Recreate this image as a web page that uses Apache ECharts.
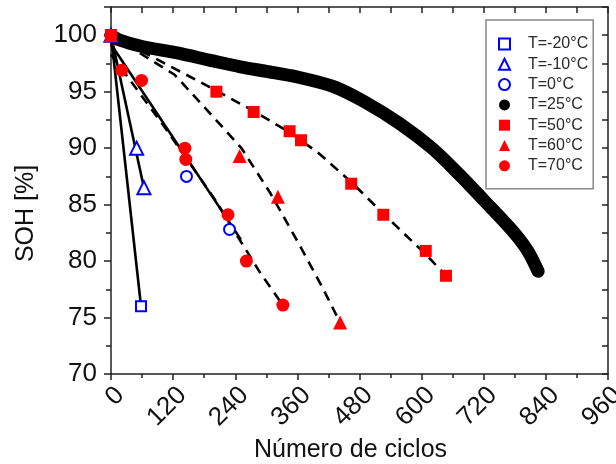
<!DOCTYPE html>
<html>
<head>
<meta charset="utf-8">
<script src="https://cdn.jsdelivr.net/npm/echarts@6/dist/echarts.min.js"></script>
<style>
html,body{margin:0;padding:0;background:#fff;}
#chart{width:616px;height:464px;}
</style>
</head>
<body>
<div id="chart"></div>
<script>
// ---- Data ----
const seriesNames = ['T=-20°C','T=-10°C','T=0°C','T=25°C','T=50°C','T=60°C','T=70°C'];
const xTickValues = [0,120,240,360,480,600,720,840,960];
const yTickValues = [70,75,80,85,90,95,100];

// measured points [cycles, SOH]
const ptsM20 = [[0,100],[58,76]];
const ptsM10 = [[0,100],[49.5,90],[63.6,86.5]];
const pts0   = [[0,100],[145.8,87.5],[229,82.8]];
const pts25  = [[0,100],[15,99.6],[60,99.0],[125,98.45],[190,97.8],[250,97.2],[300,96.8],[360,96.3],[430,95.45],[490,94.1],[557,92.2],[620,90.0],[672,87.7],[720,85.4],[775,82.7],[805,80.9],[825,79.1]];
const pts50  = [[0,100],[203.6,95],[275.5,93.2],[345,91.5],[367,90.7],[464,86.85],[526,84.1],[608,80.9],[647,78.7]];
const pts60  = [[0,100],[248.5,89.3],[322.4,85.7],[442.6,74.55]];
const pts70  = [[0,100],[20.6,96.9],[59,96.0],[142.6,90.0],[144.5,89.0],[226,84.1],[261.5,80.0],[332,76.1]];

// fitted trend lines (as drawn in the reference)
const fitM20 = [[0,100],[58,76]];
const fitM10 = [[0,100],[63.6,86.5]];
const fit0   = [[0,99.2],[251,81.9]];
const fit50  = [[0,100],[100,97.6],[203,95.1],[275,93.3],[345,91.4],[400,89.6],[464,87.0],[526,84.2],[608,80.6],[647,78.7]];
const fit60  = [[0,100],[123,96.5],[185,93.4],[252,90.0],[308,86.0],[362,81.6],[408,77.7],[442,74.6]];
const fit70  = [[0,98.3],[100,92.1],[200,85.5],[243,82.3],[289,78.9],[332,76.1]];

// ---- Chart ----
const FONT = 'Liberation Sans, Arial, sans-serif';
const BLUE = '#0000ff', RED = '#ff0000', BLACK = '#000000';
const AX = {color:'#222', width:1.5};

const chart = echarts.init(document.getElementById('chart'), null, {renderer:'canvas'});

function fitLine(data, dashed){
  return {type:'line', data:data, showSymbol:false, symbol:'none', silent:true, z:3,
    lineStyle:{color:BLACK, width:2.6, type: dashed ? [10,7] : 'solid'}, legendHoverLink:false};
}
function openMarker(name, data, symbol, size){
  return {name:name, type:'scatter', data:data, symbol:symbol, symbolSize:size, z:5,
    itemStyle:{color:'#ffffff', borderColor:BLUE, borderWidth:2, opacity:1}};
}
function filledMarker(name, data, symbol, size){
  return {name:name, type:'scatter', data:data, symbol:symbol, symbolSize:size, z:6,
    itemStyle:{color:RED, opacity:1}};
}

const option = {
  animation:false,
  backgroundColor:'#ffffff',
  textStyle:{fontFamily:FONT},
  grid:{left:111, right:8, top:7, bottom:90, show:false, containLabel:false, outerBoundsMode:'none'},
  legend:{
    orient:'vertical', left:486, top:20,
    padding:[16,5,15,12], itemGap:4.3, itemWidth:11, itemHeight:11,
    borderColor:'#888', borderWidth:1.5, backgroundColor:'#fff',
    textStyle:{fontFamily:FONT, fontSize:16, color:'#2a2a2a', padding:[0,0,0,13]},
    data:[
      {name:seriesNames[0]},
      {name:seriesNames[1]},
      {name:seriesNames[2]},
      {name:seriesNames[3], icon:'circle'},
      {name:seriesNames[4]},
      {name:seriesNames[5]},
      {name:seriesNames[6]}
    ]
  },
  xAxis:[{
    type:'value', position:'bottom', min:xTickValues[0], max:xTickValues[xTickValues.length-1], interval:120,
    name:'Número de ciclos', nameLocation:'middle', nameGap:48,
    nameTextStyle:{fontFamily:FONT, fontSize:25, color:'#111', padding:[0,18,0,0]},
    axisLine:{show:true, onZero:false, lineStyle:AX},
    axisTick:{show:true, inside:false, length:6, lineStyle:AX},
    minorTick:{show:true, splitNumber:2, length:4, lineStyle:AX},
    splitLine:{show:false},
    axisLabel:{rotate:45, fontSize:26, color:'#111', margin:8, verticalAlign:'top', fontFamily:FONT}
  },{
    type:'value', position:'top', min:xTickValues[0], max:xTickValues[xTickValues.length-1], interval:120,
    axisLine:{show:true, onZero:false, lineStyle:AX},
    axisTick:{show:true, inside:true, length:6, lineStyle:AX},
    minorTick:{show:true, splitNumber:2, length:6, lineStyle:AX},
    splitLine:{show:false}, axisLabel:{show:false}
  }],
  yAxis:[{
    type:'value', position:'left', min:yTickValues[0], max:102.5, interval:5,
    name:'SOH [%]', nameLocation:'middle', nameGap:72, nameRotate:90,
    nameTextStyle:{fontFamily:FONT, fontSize:25, color:'#111', padding:[0,0,0,-46]},
    axisLine:{show:true, onZero:false, lineStyle:AX},
    axisTick:{show:true, inside:false, length:7, lineStyle:AX},
    minorTick:{show:true, splitNumber:2, length:5, lineStyle:AX},
    splitLine:{show:false},
    axisLabel:{fontSize:26, color:'#111', margin:14, fontFamily:FONT,
      formatter:function(v){ return yTickValues.indexOf(v) >= 0 ? String(v) : ''; }}
  },{
    type:'value', position:'right', min:yTickValues[0], max:102.5, interval:5,
    axisLine:{show:true, onZero:false, lineStyle:AX},
    axisTick:{show:true, inside:true, length:6, lineStyle:AX},
    minorTick:{show:true, splitNumber:2, length:6, lineStyle:AX},
    splitLine:{show:false}, axisLabel:{show:false}
  }],
  series:[
    {name:seriesNames[3], type:'line', data:pts25, showSymbol:false, symbol:'circle', symbolSize:12, z:2,
      smooth:0.3, itemStyle:{color:BLACK}, lineStyle:{color:BLACK, width:13, cap:'round', join:'round'}},
    fitLine(fitM20,false), fitLine(fitM10,false), fitLine(fit0,false),
    fitLine(fit50,true), fitLine(fit60,true), fitLine(fit70,true),
    openMarker(seriesNames[0], ptsM20, 'rect', 10),
    openMarker(seriesNames[1], ptsM10, 'triangle', 13),
    openMarker(seriesNames[2], pts0, 'circle', 11),
    filledMarker(seriesNames[4], pts50, 'rect', 12),
    filledMarker(seriesNames[5], pts60, 'triangle', 14),
    filledMarker(seriesNames[6], pts70, 'circle', 13)
  ]
};
chart.setOption(option);
</script>
</body>
</html>
